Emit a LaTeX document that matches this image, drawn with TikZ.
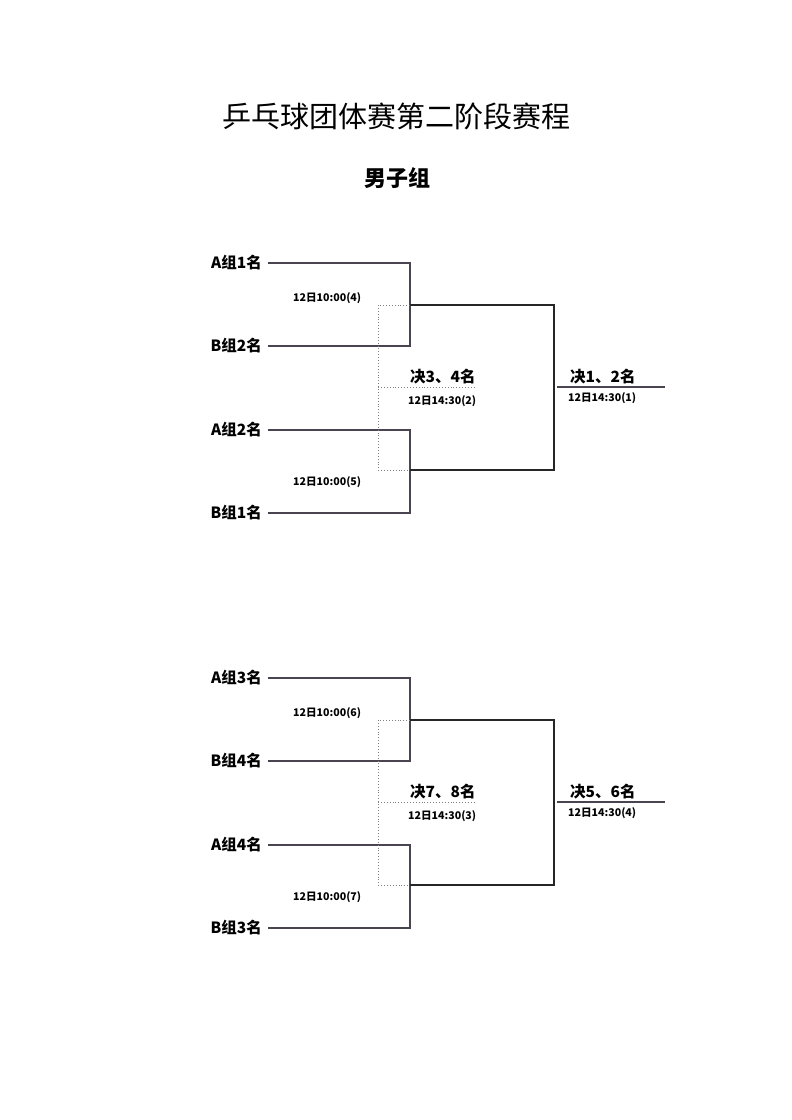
\documentclass[tikz,border=0pt]{standalone}
\usepackage{fontspec}
\newfontfamily\cjk{Noto Sans CJK SC}
\definecolor{lineg}{HTML}{4A4450}
\definecolor{dotg}{HTML}{808080}
\begin{document}
\begin{tikzpicture}[x=1pt,y=-1pt,
  team/.style={anchor=east,inner sep=0pt,font=\cjk\bfseries\fontsize{15.5}{16}\selectfont},
  tsmall/.style={anchor=west,inner sep=0pt,font=\cjk\bfseries\fontsize{10.6}{11}\selectfont},
  fin/.style={anchor=west,inner sep=0pt,font=\cjk\bfseries\fontsize{15.5}{16}\selectfont},
  wire/.style={draw=lineg,line width=1.2pt},
  wire2/.style={draw=black!85,line width=1.1pt},
  dots/.style={draw=dotg,line width=0.9pt,dotted}]
\useasboundingbox (0,0) rectangle (792,1120);
\node[inner sep=0pt,font=\cjk\fontsize{29}{30}\selectfont] (title) at (396,116) {乒乓球团体赛第二阶段赛程};
\node[inner sep=0pt,font=\cjk\bfseries\fontsize{22}{24}\selectfont] (sub) at (397,178) {男子组};
\foreach \off/\s/\la/\lb/\lc/\ld/\ta/\tb/\fa/\tfa/\fb/\tfb in
  {0/a/A组1名/B组2名/A组2名/B组1名/12日10:00(4)/12日10:00(5)/决3、4名/12日14:30(2)/决1、2名/12日14:30(1),
   415/b/A组3名/B组4名/A组4名/B组3名/12日10:00(6)/12日10:00(7)/决7、8名/12日14:30(3)/决5、6名/12日14:30(4)}
{
  \begin{scope}[yshift=-\off pt]
  \node[team] (t1\s) at (262,263) {\la};
  \node[team] (t2\s) at (262,346) {\lb};
  \node[team] (t3\s) at (262,430) {\lc};
  \node[team] (t4\s) at (262,513) {\ld};
  \coordinate (s1\s) at (268,263);
  \coordinate (s2\s) at (268,346);
  \coordinate (s3\s) at (268,430);
  \coordinate (s4\s) at (268,513);
  \coordinate (j1\s) at (410,305);
  \coordinate (j2\s) at (410,470);
  \coordinate (d1\s) at (378,305);
  \coordinate (d2\s) at (378,470);
  \coordinate (dl\s) at (378,387);
  \coordinate (dr\s) at (476,387);
  \coordinate (fl\s) at (557,387);
  \coordinate (fr\s) at (665,387);
  \coordinate (k1\s) at (554,305);
  \coordinate (k2\s) at (554,470);
  \path[wire] (s1\s) -| (j1\s) |- (s2\s);
  \path[wire] (s3\s) -| (j2\s) |- (s4\s);
  \path[wire2] (j1\s) -- (k1\s) -- (k2\s) -- (j2\s);
  \path[dots] (j1\s) -- (d1\s) -- (d2\s) -- (j2\s);
  \path[dots] (dl\s) -- (dr\s);
  \path[wire] (fl\s) -- (fr\s);
  \node[tsmall] (ma\s) at (293,298) {\ta};
  \node[tsmall] (mb\s) at (293,482) {\tb};
  \node[fin] (fa\s) at (410,377) {\fa};
  \node[tsmall] (tfa\s) at (408,401) {\tfa};
  \node[fin] (fb\s) at (570,377) {\fb};
  \node[tsmall] (tfb\s) at (568,398) {\tfb};
  \end{scope}
}
\end{tikzpicture}
\end{document}
